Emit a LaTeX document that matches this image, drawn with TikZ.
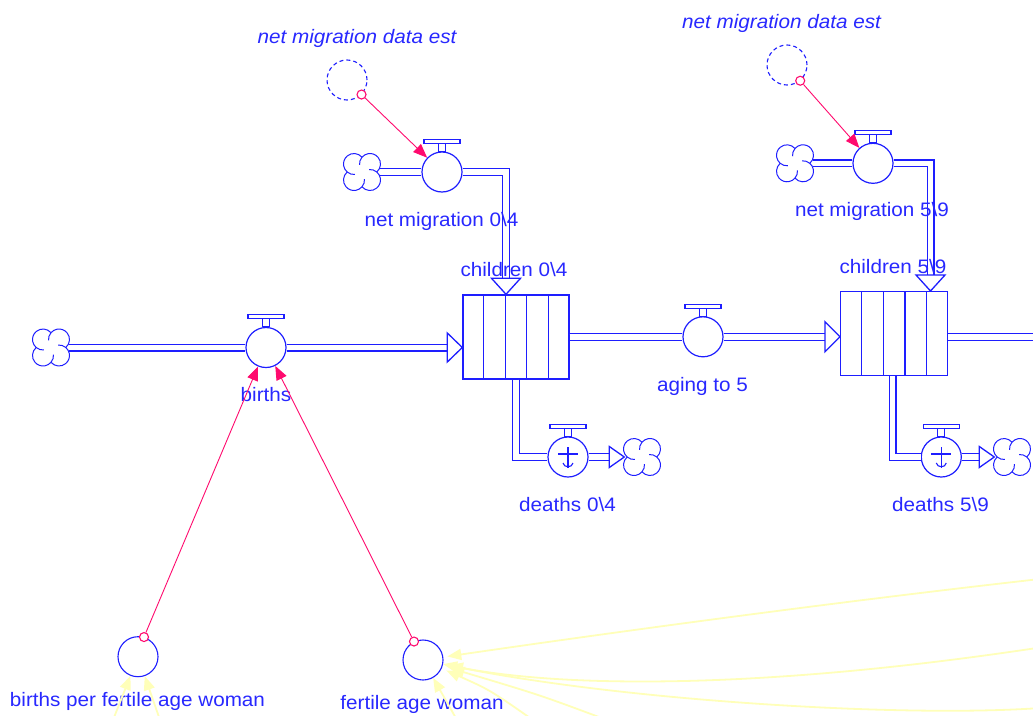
\documentclass[tikz,border=0pt]{standalone}
\usepackage{fontspec}
\setmainfont{Liberation Sans}[FakeStretch=1.06]
\usetikzlibrary{calc,arrows.meta}
\definecolor{flowblue}{RGB}{30,30,255}
\definecolor{txtblue}{RGB}{40,40,255}
\definecolor{linkpink}{RGB}{255,10,110}
\definecolor{paleyellow}{RGB}{255,255,185}

\tikzset{
  sourcecloud/.pic={
    \draw[cloudline] (0,14.8) arc[start angle=139.6, end angle=-49.6, radius=10.5]
      arc[start angle=49.6, end angle=-139.6, radius=10.5]
      arc[start angle=-40.4, end angle=-229.6, radius=10.5]
      arc[start angle=-130.4, end angle=-319.6, radius=10.5] -- cycle;
    \draw[cloudline] (14.8,0) arc[start angle=-49.6, end angle=-95, radius=10.5];
    \draw[cloudline] (0,-14.8) arc[start angle=-139.6, end angle=-185, radius=10.5];
    \draw[cloudline] (-14.8,0) arc[start angle=-229.6, end angle=-275, radius=10.5];
    \draw[cloudline] (0,14.8) arc[start angle=-319.6, end angle=-365, radius=10.5];
  },
  valvetop/.pic={
    \draw[handle] (-3.5,0) rectangle (3.5,-8);
    \draw[handle] (-18,-8) rectangle (18,-12);
  },
  drainmark/.pic={
    \draw[flowblue, line width=2.2pt] (-10,-3) -- (10,-3);
    \draw[flowblue, line width=1.1pt] (0,-10) -- (0,11);
    \draw[flowblue, line width=1.1pt] (-5,6) .. controls (-4,11) and (4,11) .. (5,6);
  }
}

\begin{document}
\begin{tikzpicture}[x=1pt,y=-1pt,
  lbl/.style={text=txtblue, font=\fontsize{19.5}{22}\selectfont, inner sep=0pt, anchor=base},
  ilbl/.style={lbl, font=\fontsize{19.5}{22}\selectfont\itshape},
  valve/.style={circle, draw=flowblue, line width=1.2pt, fill=white, minimum size=40pt, inner sep=0pt},
  stock/.style={rectangle, draw=flowblue, line width=1.4pt, fill=white, minimum width=106pt, minimum height=84pt, inner sep=0pt},
  conv/.style={circle, draw=flowblue, line width=1.1pt, minimum size=40pt, inner sep=0pt},
  ghost/.style={conv, dash pattern=on 4pt off 3pt},
  cloudspot/.style={circle, minimum size=35pt, inner sep=0pt},
  pipe/.style={draw=flowblue, line width=1.3pt, double=white, double distance=5.4pt, line join=miter},
  pipehead/.style={draw=flowblue, line width=1.3pt, fill=white, line join=miter},
  handle/.style={draw=flowblue, line width=1.1pt, fill=white},
  cloudline/.style={draw=flowblue, line width=1pt},
  linkdot/.style={circle, draw=linkpink, line width=1.1pt, fill=white, minimum size=9pt, inner sep=0pt},
  link/.style={draw=linkpink, line width=0.9pt, -{Triangle[length=14pt,width=11pt]}},
  faint/.style={draw=paleyellow, line width=1.8pt, -{Triangle[length=14pt,width=11pt]}},
]

\fill[white] (0,0) rectangle (1033,715);
\useasboundingbox (0,0) rectangle (1033,715);

% stocks (conveyors)
\node[stock] (c04) at (516,337) {};
\node[stock, minimum width=106.6pt] (c59) at (894,333.7) {};
\foreach \s in {c04,c59}
  \foreach \f in {0.2,0.4,0.6,0.8}
    \draw[flowblue, line width=1.4pt] ($(\s.north west)!\f!(\s.north east)$) -- ($(\s.south west)!\f!(\s.south east)$);

% sources and sinks
\node[cloudspot] (src)   at (51,347.5) {};
\node[cloudspot] (cnm04) at (362,172) {};
\node[cloudspot] (cd04)  at (642,457) {};
\node[cloudspot] (cnm59) at (795,163.3) {};
\node[cloudspot] (cd59)  at (1012,457) {};

% flow valves
\node[valve] (births) at (266,347.5) {};
\node[valve] (nm04)   at (442,172) {};
\node[valve] (d04)    at (568,457) {};
\node[valve] (aging)  at (703,336.8) {};
\node[valve] (nm59)   at (873,163.3) {};
\node[valve] (d59)    at (941.3,457) {};

% births
\draw[pipe] (src) -- (births);
\coordinate (tipB) at (c04.west |- births);
\draw[pipe] (births) -- ($(tipB)+(-15,0)$);
\draw[pipehead] (tipB) -- ++(-15,-14.5) -- ++(0,29) -- cycle;

% net migration 0-4
\draw[pipe] (cnm04) -- (nm04);
\coordinate (tipN0) at ($(c04.north)+(-10,0)$);
\draw[pipe] (nm04) -| ($(tipN0)+(0,-16)$);
\draw[pipehead] (tipN0) -- ++(-14.5,-16) -- ++(29,0) -- cycle;

% deaths 0-4
\draw[pipe] (c04.south) |- (d04);
\coordinate (tipD0) at (cd04.west);
\draw[pipe] (d04) -- ($(tipD0)+(-15,0)$);
\draw[pipehead] (tipD0) -- ++(-15,-10.5) -- ++(0,21) -- cycle;

% aging to 5
\draw[pipe] (c04.east |- aging) -- (aging);
\coordinate (tipA) at (c59.west |- aging);
\draw[pipe] (aging) -- ($(tipA)+(-15,0)$);
\draw[pipehead] (tipA) -- ++(-15,-15) -- ++(0,30) -- cycle;

% net migration 5-9
\draw[pipe] (cnm59) -- (nm59);
\coordinate (tipN5) at ($(c59.north)+(36.5,0)$);
\draw[pipe] (nm59) -| ($(tipN5)+(0,-16)$);
\draw[pipehead] (tipN5) -- ++(-14.5,-16) -- ++(29,0) -- cycle;

% deaths 5-9
\draw[pipe] ($(c59.south)+(-1.5,0)$) |- (d59);
\coordinate (tipD5) at (cd59.west);
\draw[pipe] (d59) -- ($(tipD5)+(-15,0)$);
\draw[pipehead] (tipD5) -- ++(-15,-10.5) -- ++(0,21) -- cycle;

% outflow of children 5-9
\coordinate (edgeR) at (1040,336.8);
\draw[pipe] (c59.east |- aging) -- (edgeR);

% cloud outlines, valve handles, drain marks
\foreach \c in {src,cnm04,cd04,cnm59,cd59}
  \pic at (\c) {sourcecloud};
\foreach \v in {births,nm04,d04,aging,nm59,d59}
  \pic at (\v.north) {valvetop};
\pic at (d04) {drainmark};
\pic at (d59) {drainmark};

% converters
\node[conv]  (bpw) at (138,656.7) {};
\node[conv]  (faw) at (423,660) {};
\node[ghost] (g04) at (347,80) {};
\node[ghost] (g59) at (787,65) {};

% labels
\node[ilbl] (tg04)    at (357,43)      {net migration data est};
\node[ilbl] (tg59)    at (781.5,28)    {net migration data est};
\node[lbl]  (tnm04)   at (441.5,226.5) {net migration 0\textbackslash 4};
\node[lbl]  (tnm59)   at (872,216.5)   {net migration 5\textbackslash 9};
\node[lbl]  (tc04)    at (514,276.5)   {children 0\textbackslash 4};
\node[lbl]  (tc59)    at (893,273.3)   {children 5\textbackslash 9};
\node[lbl]  (tbirths) at (266,401.5)   {births};
\node[lbl]  (taging)  at (702.5,391.5) {aging to 5};
\node[lbl]  (td04)    at (567.5,511)   {deaths 0\textbackslash 4};
\node[lbl]  (td59)    at (940.5,511.5) {deaths 5\textbackslash 9};
\node[lbl]  (tbpw)    at (137.5,706)   {births per fertile age woman};
\node[lbl]  (tfaw)    at (422,709)     {fertile age woman};

% information links
\node[linkdot] (dg04) at (g04.-45) {};
\node[linkdot] (dg59) at (g59.-50) {};
\node[linkdot] (dbpw) at (bpw.73) {};
\node[linkdot] (dfaw) at (faw.116) {};
\draw[link] (dg04) -- (nm04);
\draw[link] (dg59) -- (nm59);
\draw[link] (dbpw) -- (births);
\draw[link] (dfaw) -- (births);

% faint links arriving from the rest of the model
\coordinate (e1) at (1040,579);
\coordinate (e2) at (1040,647.5);
\coordinate (e3) at (1040,708);
\coordinate (e4) at (607,720);
\coordinate (e5) at (533,720);
\coordinate (e6) at (457,720);
\coordinate (e7) at (113,720);
\coordinate (e8) at (160,720);
\draw[faint, shorten >=4pt] (e1) .. controls (800,606) and (560,640) .. (faw);
\draw[faint] (e2) .. controls (760,690) and (560,688) .. (faw);
\draw[faint, shorten >=6pt] (e3) .. controls (900,718) and (620,700) .. (faw);
\draw[faint, shorten >=8pt] (e4) .. controls (540,695) .. (faw);
\draw[faint, shorten >=5pt] (e5) .. controls (490,690) .. (faw);
\draw[faint] (e6) -- (faw);
\draw[faint] (e7) -- (bpw);
\draw[faint] (e8) -- (bpw);
\end{tikzpicture}
\end{document}
